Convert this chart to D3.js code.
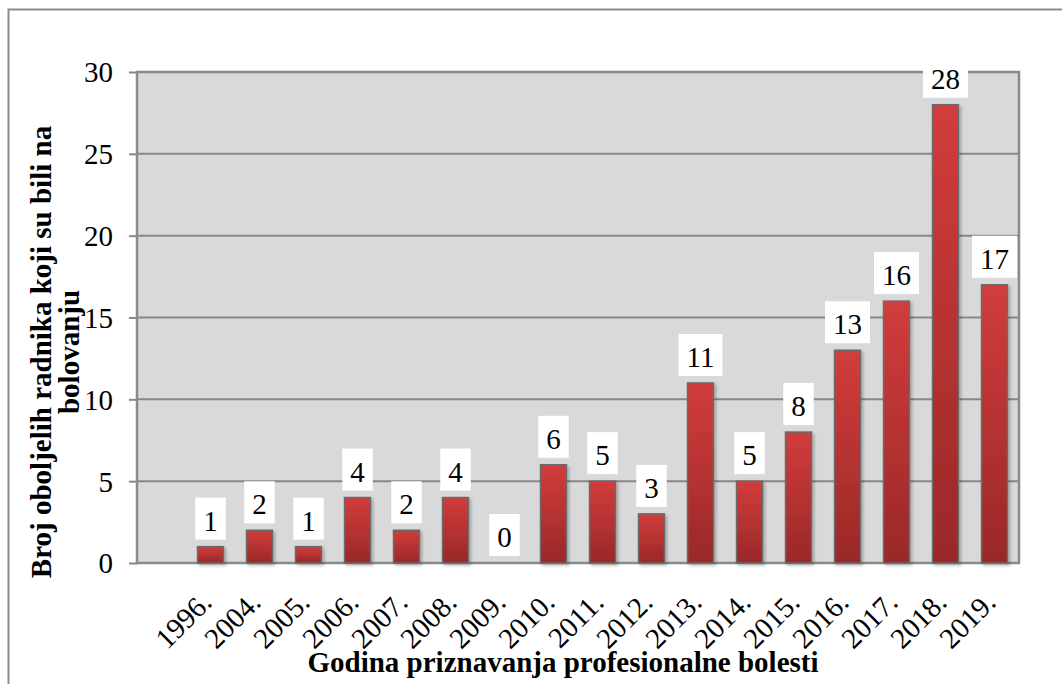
<!DOCTYPE html>
<html>
<head>
<meta charset="utf-8">
<script src="https://cdn.jsdelivr.net/npm/d3@7"></script>
<style>
  body { margin: 0; background: #fff; }
  text { font-family: "Liberation Serif", "Times New Roman", serif; fill: #000; }
</style>
</head>
<body>
<div id="chart"></div>
<script>
// data; the first slot is an empty category in the source sheet
var years = ["", "1996.", "2004.", "2005.", "2006.", "2007.", "2008.", "2009.", "2010.",
             "2011.", "2012.", "2013.", "2014.", "2015.", "2016.", "2017.", "2018.", "2019."];
var counts = [null, 1, 2, 1, 4, 2, 4, 0, 6, 5, 3, 11, 5, 8, 13, 16, 28, 17];
var yTicks = [0, 5, 10, 15, 20, 25, 30];
var yTitle = ["Broj oboljelih radnika koji su bili na", "bolovanju"];
var xTitle = "Godina priznavanja profesionalne bolesti";

var W = 1062, H = 684;
var plot = {left: 137, right: 1019, top: 72, bottom: 563};
var serif = "'Liberation Serif', 'Times New Roman', serif";

var svg = d3.select("#chart").append("svg")
    .attr("width", W).attr("height", H);

var defs = svg.append("defs");
var grad = defs.append("linearGradient").attr("id", "barfill")
    .attr("x1", 0).attr("y1", 0).attr("x2", 0).attr("y2", 1);
grad.append("stop").attr("offset", "0%").attr("stop-color", "#d23c3c");
grad.append("stop").attr("offset", "100%").attr("stop-color", "#9a2828");
var sh = defs.append("filter").attr("id", "shadow")
    .attr("x", "-20%").attr("y", "-20%").attr("width", "150%").attr("height", "150%");
sh.append("feDropShadow").attr("dx", 2).attr("dy", 2).attr("stdDeviation", 1.5)
    .attr("flood-color", "#000").attr("flood-opacity", 0.25);

// outer frame (right and bottom run off the page)
svg.append("rect").attr("x", 8.5).attr("y", 9.5).attr("width", W + 20).attr("height", H + 20)
    .attr("fill", "none").attr("stroke", "#8c8c8c").attr("stroke-width", 2);

var x = d3.scaleBand().domain(years).range([plot.left, plot.right])
    .paddingInner(0.47).paddingOuter(0.235);
var y = d3.scaleLinear().domain([0, 30]).range([plot.bottom, plot.top]);

svg.append("rect").attr("x", plot.left).attr("y", plot.top)
    .attr("width", plot.right - plot.left).attr("height", plot.bottom - plot.top)
    .attr("fill", "#d9d9d9");

// gridlines
svg.append("g").selectAll("line").data(yTicks.filter(function(d) { return d > 0 && d < 30; }))
    .join("line")
    .attr("x1", plot.left).attr("x2", plot.right)
    .attr("y1", function(d) { return y(d); }).attr("y2", function(d) { return y(d); })
    .attr("stroke", "#878787").attr("stroke-width", 2);

// y axis
var yAxis = d3.axisLeft(y).tickValues(yTicks).tickSize(8).tickPadding(16);
var gy = svg.append("g").attr("transform", "translate(" + plot.left + ",0)").call(yAxis)
    .attr("font-family", serif).attr("font-size", 29);
gy.select(".domain").remove();
gy.selectAll(".tick line").attr("stroke", "#878787").attr("stroke-width", 2);
gy.selectAll(".tick text").attr("dy", "0.34em");

// plot frame
svg.append("rect").attr("x", plot.left).attr("y", plot.top)
    .attr("width", plot.right - plot.left).attr("height", plot.bottom - plot.top)
    .attr("fill", "none").attr("stroke", "#8a8a8a").attr("stroke-width", 2.5);

// bars
var data = years.map(function(d, i) { return {year: d, v: counts[i]}; })
    .filter(function(d) { return d.v !== null; });

svg.append("g").selectAll("rect").data(data).join("rect")
    .attr("x", function(d) { return x(d.year); })
    .attr("y", function(d) { return y(d.v); })
    .attr("width", x.bandwidth())
    .attr("height", function(d) { return y(0) - y(d.v); })
    .attr("fill", "url(#barfill)")
    .attr("stroke", "#6a6a6a").attr("stroke-width", 1.5)
    .attr("filter", "url(#shadow)")
    .style("display", function(d) { return d.v > 0 ? null : "none"; });

// data labels on white boxes
var lab = svg.append("g").selectAll("g").data(data).join("g")
    .attr("transform", function(d) {
        return "translate(" + (x(d.year) + x.bandwidth() / 2) + "," + (y(d.v) - 7) + ")";
    });
lab.append("text").attr("text-anchor", "middle").attr("y", -9)
    .style("font-size", "29px").text(function(d) { return d.v; });
lab.each(function() {
    var g = d3.select(this);
    var w = g.select("text").node().getComputedTextLength() + 16;
    g.insert("rect", "text").attr("x", -w / 2).attr("y", -42)
        .attr("width", w).attr("height", 42).attr("fill", "#fff");
});

// x tick labels
svg.append("g").selectAll("text").data(years.filter(function(d) { return d !== ""; }))
    .join("text")
    .attr("text-anchor", "end")
    .attr("transform", function(d) {
        return "translate(" + (x(d) + x.bandwidth() / 2 + 3) + ",604) rotate(-45)";
    })
    .style("font-size", "29px")
    .text(function(d) { return d; });

// axis titles
svg.append("text").attr("x", 563).attr("y", 672).attr("text-anchor", "middle")
    .style("font-size", "29px").style("font-weight", "bold").text(xTitle);

var cy = 352;
svg.append("text").attr("text-anchor", "middle")
    .attr("transform", "translate(51," + cy + ") rotate(-90)")
    .style("font-size", "29px").style("font-weight", "bold").text(yTitle[0]);
svg.append("text").attr("text-anchor", "middle")
    .attr("transform", "translate(79," + cy + ") rotate(-90)")
    .style("font-size", "29px").style("font-weight", "bold").text(yTitle[1]);
</script>
</body>
</html>
